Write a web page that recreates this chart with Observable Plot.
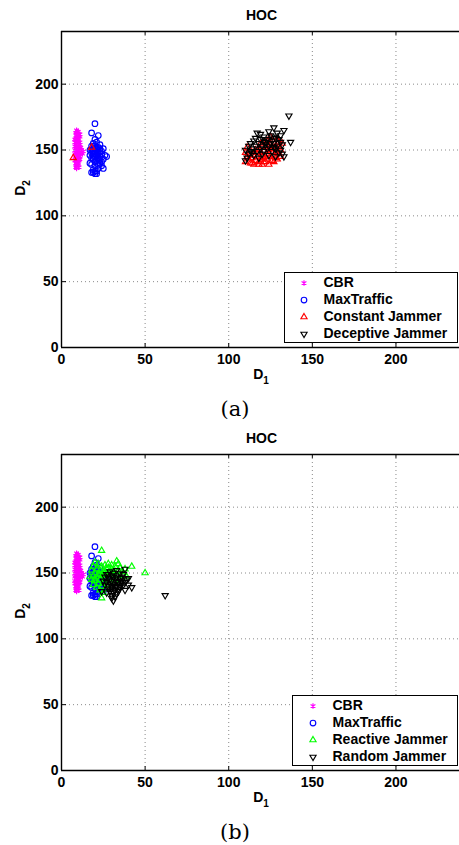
<!DOCTYPE html>
<html><head><meta charset="utf-8">
<script src="https://cdn.jsdelivr.net/npm/d3@7"></script>
<script src="https://cdn.jsdelivr.net/npm/@observablehq/plot@0.6"></script>
<style>
body{margin:0;background:#fff;}
#page{position:relative;width:459px;height:845px;overflow:hidden;background:#fff;font-family:"Liberation Sans",Arial,sans-serif;color:#000;}
.abs{position:absolute;}
.title{font-weight:bold;font-size:14px;transform:translate(-50%,-50%);white-space:nowrap;}
.xlab{font-weight:bold;font-size:14px;transform:translate(-50%,-50%);white-space:nowrap;}
.ylab{font-weight:bold;font-size:14px;transform:translate(-50%,-50%) rotate(-90deg);white-space:nowrap;}
sub{font-size:10px;vertical-align:-5px;line-height:0;}
.cap{font-family:"DejaVu Serif",serif;font-size:21px;transform:translate(-50%,-50%);white-space:nowrap;}
.legend{border:1.5px solid #000;background:#fff;box-sizing:border-box;}
.entry{position:absolute;left:0;height:17px;font-weight:bold;font-size:14px;white-space:nowrap;}
.entry svg{position:absolute;top:3px;}
.entry span{position:absolute;top:0;line-height:17px;}
</style>
</head><body>
<div id="page"></div>
<script>
// ---- Data ----
const axisTicks = [0, 50, 100, 150, 200];
const gridTicks = [50, 100, 150, 200];
const xDomain = [0, 238];
const yDomain = [0, 240];

const cbr = [[9,165],[10,164],[8.5,163],[10.5,162],[9,161],[11,160],[9.5,159],[8,158],[10,157],[11,156],[9,155],[8.5,154],[10,153],[11.5,152],[9,151],[12,150],[13,149],[10,149],[8.5,148],[12.5,147],[11,147],[9,146],[10,145],[8,144],[9.5,143],[10.5,142],[9,141],[8.5,140],[10,139],[9,138],[8.5,137],[9,136],[10,150],[9,152],[11,154],[8,156],[10,158],[9,160],[11,162],[9.5,164],[8,150],[10,146],[9,144],[11,143],[8,142],[10,140],[9,139],[10,148],[11,151],[8,153],[9,157],[10,155],[9,163],[10,161],[8.5,159],[11,145],[9.5,147],[10.5,137],[9,142],[8,147]];

const maxTraffic = [[20,170],[18,163],[22,161],[20,158],[21,156],[19,155],[23,154],[18,153],[20,153],[22,152],[25,151],[19,151],[21,150],[17,150],[23,149],[20,149],[18,148],[22,148],[24,147],[19,147],[21,146],[26,146],[17,146],[20,145],[23,145],[27,145],[18,144],[22,144],[25,143],[19,143],[21,142],[24,141],[20,141],[17,140],[23,140],[22,139],[18,139],[24,138],[20,138],[25,136],[22,136],[19,135],[21,134],[20,134],[18,133],[19,133],[21,132],[20,132],[22,147],[21,152],[19,149],[23,151],[20,151],[22,143],[18,150],[21,144],[19,145],[24,149],[20,147],[23,142]];

const constantJammer = [[110,148],[111,145],[110,141],[112,143],[113,140],[112,147],[114,144],[115,146],[116,142],[115,139],[117,145],[118,141],[117,148],[118,150],[119,143],[120,146],[120,139],[121,144],[121,149],[122,141],[122,152],[123,147],[123,143],[124,150],[124,139],[125,145],[125,155],[126,148],[126,142],[127,151],[127,146],[128,153],[128,144],[129,149],[129,158],[130,147],[130,152],[131,150],[131,145],[132,155],[125,160],[123,157],[126,158],[120,153],[119,148],[116,150],[113,150],[122,145],[124,153],[121,141],[118,139],[127,141],[124,147],[126,151],[128,148],[129,143],[130,156],[7,144],[18,152],[114,140],[111,152],[119,155]];

const deceptiveJammer = [[136,176],[137,156],[133,145],[133,165],[127,167],[124,164],[117,163],[129,163],[131,161],[121,160],[125,161],[119,158],[128,159],[123,158],[115,157],[130,158],[126,157],[113,155],[118,155],[122,156],[127,155],[132,154],[112,153],[116,153],[120,153],[124,153],[129,153],[114,151],[119,151],[123,151],[128,151],[131,150],[117,149],[121,149],[126,149],[130,148],[110,142],[112,147],[115,146],[124,146],[128,145],[132,147],[120,147],[118,144],[110,150],[113,149],[125,155],[122,154],[127,152],[131,156],[126,160],[116,159],[121,157],[119,162],[114,148],[111,144]];

const reactiveJammer = [[24,167],[33,159],[42,155],[50,150],[20,158],[22,157],[28,157],[30,156],[26,156],[19,155],[24,155],[32,155],[35,154],[38,153],[21,153],[27,153],[30,153],[18,152],[23,152],[34,152],[25,151],[29,151],[36,151],[20,150],[22,149],[27,149],[31,149],[19,148],[24,148],[33,148],[21,147],[26,146],[29,146],[18,145],[23,145],[35,146],[20,144],[25,143],[28,143],[22,142],[19,141],[24,140],[27,141],[21,139],[23,137],[26,138],[25,135],[24,131],[17,147],[30,150],[37,148],[32,144],[28,154],[31,152],[26,150],[23,149],[20,146],[34,157],[39,147]];

const randomJammer = [[62,133],[38,153],[42,139],[40,141],[38,137],[31,129],[24,136],[33,152],[29,151],[35,150],[31,150],[27,149],[37,149],[30,148],[33,147],[26,147],[35,146],[28,146],[39,145],[32,145],[30,144],[36,144],[27,143],[34,143],[29,142],[31,141],[37,141],[33,140],[28,140],[35,139],[30,138],[32,137],[29,136],[34,136],[31,135],[27,135],[33,134],[30,133],[32,132],[28,138],[36,142],[38,143],[26,141],[29,145],[31,147],[33,144],[35,141],[30,140],[32,139],[34,138],[25,144],[28,149],[36,147],[30,131],[40,146]];

const styles = {
  "CBR": {symbol: "asterisk", stroke: "#ff00ff", r: 2.6, rotate: 0},
  "MaxTraffic": {symbol: "circle", stroke: "#0000ff", r: 2.8, rotate: 0},
  "Constant Jammer": {symbol: "triangle", stroke: "#ff0000", r: 2.3, rotate: 0},
  "Deceptive Jammer": {symbol: "triangle", stroke: "#000000", r: 2.3, rotate: 180},
  "Reactive Jammer": {symbol: "triangle", stroke: "#00ff00", r: 2.3, rotate: 0},
  "Random Jammer": {symbol: "triangle", stroke: "#000000", r: 2.3, rotate: 180}
};

const panelA = [["CBR", cbr], ["MaxTraffic", maxTraffic], ["Constant Jammer", constantJammer], ["Deceptive Jammer", deceptiveJammer]];
const panelB = [["CBR", cbr], ["MaxTraffic", maxTraffic], ["Reactive Jammer", reactiveJammer], ["Random Jammer", randomJammer]];

const page = document.getElementById("page");

function add(el, cls, left, top, html) {
  const d = document.createElement("div");
  d.className = "abs " + cls;
  d.style.left = left + "px";
  d.style.top = top + "px";
  d.innerHTML = html;
  page.appendChild(d);
  return d;
}

function makePanel(series, top, caption, legendBox) {
  const tx = 3, ty = 3; // inward tick length (data units)
  const dots = series.map(([name, pts]) => {
    const s = styles[name];
    return Plot.dot(pts, {x: d => d[0], y: d => d[1], symbol: s.symbol, stroke: s.stroke, r: s.r, rotate: s.rotate, strokeWidth: 1.15, fill: "none"});
  });
  const chart = Plot.plot({
    width: 459,
    height: 387,
    marginTop: 31,
    marginBottom: 40,
    marginLeft: 61,
    marginRight: 0,
    style: {fontSize: "14px", fontWeight: "bold", fontFamily: "'Liberation Sans', Arial, sans-serif", color: "#000", background: "transparent"},
    x: {domain: xDomain, ticks: axisTicks},
    y: {domain: yDomain, ticks: axisTicks},
    marks: [
      Plot.ruleX(gridTicks, {stroke: "#8a8a8a", strokeDasharray: "1,3", strokeWidth: 1}),
      Plot.ruleY(gridTicks, {stroke: "#8a8a8a", strokeDasharray: "1,3", strokeWidth: 1}),
      ...dots,
      Plot.ruleX(axisTicks, {x: d => d, y1: yDomain[0], y2: yDomain[0] + ty, stroke: "#000"}),
      Plot.ruleX(axisTicks, {x: d => d, y1: yDomain[1], y2: yDomain[1] - ty, stroke: "#000"}),
      Plot.ruleY(axisTicks, {y: d => d, x1: xDomain[0], x2: xDomain[0] + tx, stroke: "#000"}),
      Plot.ruleY([yDomain[0], yDomain[1]], {stroke: "#000", strokeWidth: 1.4}),
      Plot.ruleX([xDomain[0]], {stroke: "#000", strokeWidth: 1.4}),
      Plot.axisX(axisTicks, {tickSize: 0, tickPadding: 7, label: null, fill: "#000"}),
      Plot.axisY(axisTicks, {tickSize: 0, tickPadding: 3, label: null, fill: "#000"})
    ]
  });
  chart.style.position = "absolute";
  chart.style.left = "0px";
  chart.style.top = top + "px";
  page.appendChild(chart);

  add(null, "title", 261.5, top + 14.5, "HOC");
  add(null, "xlab", 261, top + 374, "D<sub>1</sub>");
  add(null, "ylab", 20, top + 188, "D<sub>2</sub>");
  add(null, "cap", 235, top + 409, caption);

  const lg = add(null, "legend", legendBox.left, top + legendBox.top, "");
  lg.style.width = legendBox.w + "px";
  lg.style.height = legendBox.h + "px";
  series.forEach(([name], i) => {
    const s = styles[name];
    const e = document.createElement("div");
    e.className = "entry";
    e.style.top = (legendBox.y0 + i * 17 - 8.5) + "px";
    e.style.width = "100%";
    const sym = d3.symbol(
      s.symbol === "asterisk" ? d3.symbolAsterisk : s.symbol === "circle" ? d3.symbolCircle : d3.symbolTriangle,
      Math.PI * s.r * s.r
    )();
    e.innerHTML = `<svg width="12" height="12" style="left:${legendBox.mx - 6}px"><path d="${sym}" transform="translate(6,6) rotate(${s.rotate})" fill="none" stroke="${s.stroke}" stroke-width="1.15"/></svg><span style="left:${legendBox.tx}px">${name}</span>`;
    lg.appendChild(e);
  });
}

makePanel(panelA, 0, "(a)", {left: 283.5, top: 271.5, w: 174.5, h: 71, y0: 9.5, mx: 19, tx: 39});
makePanel(panelB, 423, "(b)", {left: 292, top: 272, w: 166, h: 71, y0: 9.5, mx: 19.5, tx: 39.5});
</script>
</body></html>
